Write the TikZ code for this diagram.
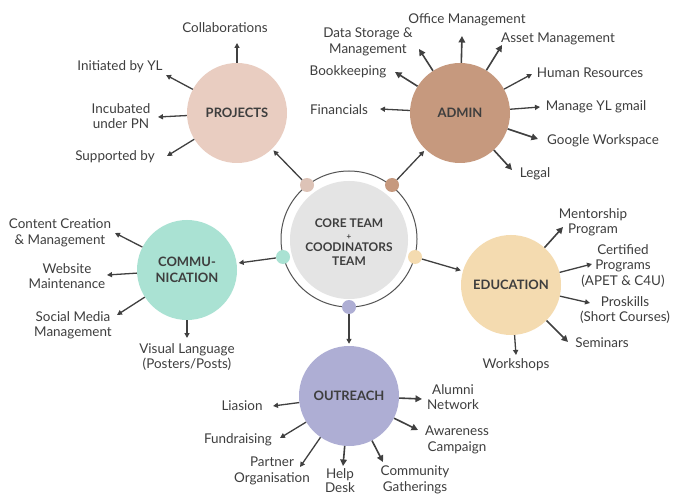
\documentclass[tikz,border=0pt]{standalone}
\usepackage{fontspec}
\setmainfont{Lato}
\usetikzlibrary{arrows.meta}
\definecolor{txt}{RGB}{62,62,62}
\definecolor{arrc}{RGB}{64,64,64}
\definecolor{projc}{RGB}{233,205,193}
\definecolor{adminc}{RGB}{198,153,126}
\definecolor{commc}{RGB}{170,226,211}
\definecolor{educ}{RGB}{244,219,176}
\definecolor{outc}{RGB}{174,174,212}
\definecolor{corec}{RGB}{228,228,228}
\tikzset{
  lbl/.style={font=\fontsize{13.5}{15.5}\selectfont, text=txt, align=center, inner sep=0pt},
  hub/.style={circle, minimum size=100bp, inner sep=0pt, font=\bfseries\fontsize{13}{16}\selectfont, text=txt, align=center},
  dotn/.style={circle, minimum size=14bp, inner sep=0pt},
  arr/.style={-{Triangle[length=5bp,width=5bp]}, line width=1.3bp, draw=arrc},
  arrb/.style={-{Triangle[length=6.5bp,width=6.5bp]}, line width=1.6bp, draw=arrc},
}
\begin{document}
\begin{tikzpicture}[x=1bp,y=-1bp]
\useasboundingbox[fill=white] (0,0) rectangle (673,496);
% core
\node[circle, minimum size=118bp, inner sep=0pt, fill=corec] (core) at (349,240) {};
\draw[line width=1bp, draw=arrc!90] (349,239) circle[radius=68bp];
\node[font=\bfseries\fontsize{12}{13.5}\selectfont, text=txt, align=center] (coretxt) at (349,242) {CORE TEAM\\[-2bp]{\fontsize{8}{9}\selectfont +}\\[-1bp]COODINATORS\\TEAM};
% hubs
\node[hub, fill=projc] (proj) at (237,113) {PROJECTS};
\node[hub, fill=adminc] (admin) at (460,113) {ADMIN};
\node[hub, fill=commc] (comm) at (187,270) {COMMU-\\NICATION};
\node[hub, fill=educ] (edu) at (511,285) {EDUCATION};
\node[hub, fill=outc] (out) at (349,396) {OUTREACH};
% dots
\node[dotn, fill=projc!95!black] (dp) at (307,185) {};
\node[dotn, fill=adminc] (da) at (392,185) {};
\node[dotn, fill=commc] (dc) at (283,257) {};
\node[dotn, fill=educ] (de) at (415,257) {};
\node[dotn, fill=outc] (do) at (349,307) {};
\draw[arr, shorten >=2bp] (dp) -- (proj);
\draw[arr, shorten >=2bp] (da) -- (admin);
\draw[arr, shorten >=2bp] (dc) -- (comm);
\draw[arr, shorten >=2bp] (de) -- (edu);
\draw[arr, shorten >=2bp] (do) -- (out);
% PROJECTS
\node[lbl] (p1) at (225,28) {Collaborations};
\node[lbl] (p2) at (120,67) {Initiated by YL};
\node[lbl] (p3) at (121,116) {Incubated\\under PN};
\node[lbl] (p4) at (115,157) {Supported by};
\coordinate (tp1) at (237,43);
\coordinate (tp2) at (166,75);
\coordinate (tp3) at (158,117);
\coordinate (tp4) at (167,156);
\draw[arr] (proj) -- (tp1);
\draw[arr] (proj) -- (tp2);
\draw[arr] (proj) -- (tp3);
\draw[arr] (proj) -- (tp4);
% ADMIN
\node[lbl] (a1) at (467,20) {Office Management};
\node[lbl] (a2) at (368,42) {Data Storage \&\\Management};
\node[lbl] (a3) at (558,39) {Asset Management};
\node[lbl] (a4) at (348,72) {Bookkeeping};
\node[lbl] (a5) at (590,73) {Human Resources};
\node[lbl] (a6) at (339,110) {Financials};
\node[lbl] (a7) at (596,107) {Manage YL gmail};
\node[lbl] (a8) at (603,141) {Google Workspace};
\node[lbl] (a9) at (535,174) {Legal};
\coordinate (ta1) at (462,36);
\coordinate (ta2) at (419,49);
\coordinate (ta3) at (502,45);
\coordinate (ta4) at (395,72);
\coordinate (ta5) at (532,74);
\coordinate (ta6) at (380,109);
\coordinate (ta7) at (540,107);
\coordinate (ta8) at (538,139);
\coordinate (ta9) at (512,170);
\draw[arrb] (admin) -- (ta1);
\draw[arrb] (admin) -- (ta2);
\draw[arrb] (admin) -- (ta3);
\draw[arrb] (admin) -- (ta4);
\draw[arr] (admin) -- (ta5);
\draw[arr] (admin) -- (ta6);
\draw[arr] (admin) -- (ta7);
\draw[arrb] (admin) -- (ta8);
\draw[arrb] (admin) -- (ta9);
% COMMUNICATION
\node[lbl] (c1) at (60,233) {Content Creation\\\& Management};
\node[lbl] (c2) at (67,276) {Website\\Maintenance};
\node[lbl] (c3) at (73,325) {Social Media\\Management};
\node[lbl] (c4) at (187,357) {Visual Language\\(Posters/Posts)};
\coordinate (tc1) at (115,233);
\coordinate (tc2) at (107,275);
\coordinate (tc3) at (117,315);
\coordinate (tc4) at (187,338);
\draw[arr] (comm) -- (tc1);
\draw[arr] (comm) -- (tc2);
\draw[arr] (comm) -- (tc3);
\draw[arr] (comm) -- (tc4);
% EDUCATION
\node[lbl] (e1) at (593,222) {Mentorship\\Program};
\node[lbl] (e2) at (623,266) {Certified\\Programs\\(APET \& C4U)};
\node[lbl] (e3) at (625,310) {Proskills\\(Short Courses)};
\node[lbl] (e4) at (602,343) {Seminars};
\node[lbl] (e5) at (516,365) {Workshops};
\coordinate (te1) at (563,227);
\coordinate (te2) at (592,264);
\coordinate (te3) at (590,303);
\coordinate (te4) at (568,342);
\coordinate (te5) at (516,355);
\draw[arrb] (edu) -- (te1);
\draw[arr] (edu) -- (te2);
\draw[arr] (edu) -- (te3);
\draw[arrb] (edu) -- (te4);
\draw[arr] (edu) -- (te5);
% OUTREACH
\node[lbl] (o1) at (453,397) {Alumni\\Network};
\node[lbl] (o2) at (242,406) {Liasion};
\node[lbl] (o3) at (457,440) {Awareness\\Campaign};
\node[lbl] (o4) at (238,440) {Fundraising};
\node[lbl] (o5) at (272,471) {Partner\\Organisation};
\node[lbl, font=\fontsize{13.5}{14}\selectfont] (o6) at (340,481) {Help\\Desk};
\node[lbl] (o7) at (415,480) {Community\\Gatherings};
\coordinate (to1) at (422,399);
\coordinate (to2) at (273,406);
\coordinate (to3) at (418,430);
\coordinate (to4) at (280,438);
\coordinate (to5) at (300,467);
\coordinate (to6) at (343,466);
\coordinate (to7) at (383,462);
\draw[arrb] (out) -- (to1);
\draw[arr] (out) -- (to2);
\draw[arrb] (out) -- (to3);
\draw[arr] (out) -- (to4);
\draw[arr] (out) -- (to5);
\draw[arrb] (out) -- (to6);
\draw[arrb] (out) -- (to7);
\end{tikzpicture}
\end{document}
